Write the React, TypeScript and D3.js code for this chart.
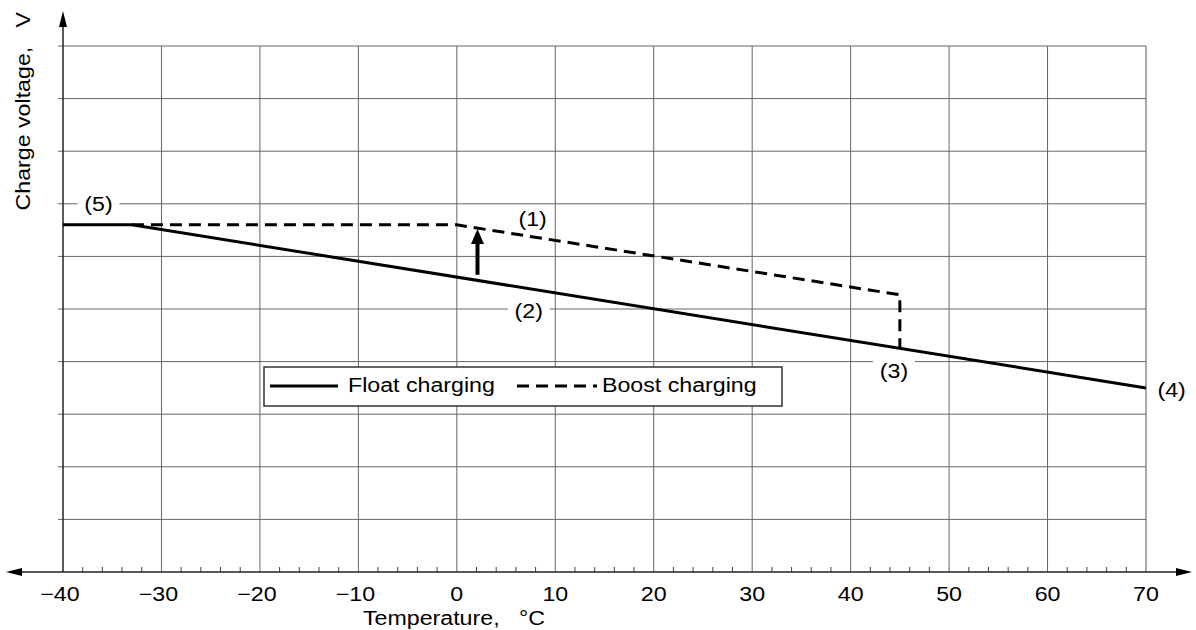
import React from 'react'
import * as d3 from 'd3'

// temperature ticks (°C)
const xTicks = [-40, -30, -20, -10, 0, 10, 20, 30, 40, 50, 60, 70]
const yGrid = [0, 1, 2, 3, 4, 5, 6, 7, 8, 9, 10]
// charge voltage in grid units (no y labels on the original)
const floatTemp = [-40, -33, 70]
const floatVolt = [6.6, 6.6, 3.5]
const boostTemp = [-33, 0, 45, 45]
const boostVolt = [6.6, 6.6, 5.27, 4.25]
const notes = [
  { label: '(5)', t: -36.4, v: 7.0 },
  { label: '(1)', t: 7.7, v: 6.72 },
  { label: '(2)', t: 7.3, v: 4.97 },
  { label: '(3)', t: 44.4, v: 3.83 },
  { label: '(4)', t: 72.6, v: 3.46 },
]
const arrowT = 2.1
const arrowFrom = 5.65
const arrowTo = 6.52

const W = 1196
const H = 630
const font = '"Liberation Sans", Arial, sans-serif'
const SX = 1.16 // the original lettering is a bit wide

function Txt({ x, y, size = 20, anchor = 'start', rotate = 0, children }: any) {
  return (
    <g transform={`translate(${x},${y}) rotate(${rotate}) scale(${SX},1)`}>
      <text textAnchor={anchor} fontFamily={font} fontSize={size} fill="#000" xmlSpace="preserve">
        {children}
      </text>
    </g>
  )
}

export default function App() {
  const x = d3.scaleLinear().domain([-40, 70]).range([63, 1146])
  const y = d3.scaleLinear().domain([0, 10]).range([572, 46])
  const line = d3.line<[number, number]>().x(d => x(d[0])).y(d => y(d[1]))
  const floatPts = floatTemp.map((t, i) => [t, floatVolt[i]] as [number, number])
  const boostPts = boostTemp.map((t, i) => [t, boostVolt[i]] as [number, number])
  const minor = d3.range(-40, 70.1, 2).filter(t => t % 10 !== 0)

  const ax = x(arrowT)
  return (
    <svg width={W} height={H} style={{ position: 'absolute', left: 0, top: 0, background: '#fff' }}>
      {/* grid */}
      {xTicks.slice(1, -1).map(t => (
        <line key={'vx' + t} x1={x(t)} x2={x(t)} y1={y(10)} y2={y(0)} stroke="#666" strokeWidth={1} />
      ))}
      <line x1={x(70)} x2={x(70)} y1={y(10)} y2={y(0)} stroke="#aaa" strokeWidth={2} />
      {yGrid.slice(1).map(v => (
        <line key={'hy' + v} x1={x(-40) - 5} x2={x(70)} y1={y(v)} y2={y(v)} stroke="#666" strokeWidth={1} />
      ))}
      {/* minor x ticks */}
      {minor.map(t => (
        <line key={'m' + t} x1={x(t)} x2={x(t)} y1={y(0) - 5} y2={y(0)} stroke="#444" strokeWidth={1} />
      ))}
      {/* axes */}
      <line x1={x(-40)} x2={x(-40)} y1={22} y2={y(0)} stroke="#222" strokeWidth={1.5} />
      <path d={`M${x(-40)},11 L${x(-40) - 4},27 L${x(-40) + 4},27 Z`} fill="#000" />
      <line x1={18} x2={1180} y1={y(0)} y2={y(0)} stroke="#222" strokeWidth={1.5} />
      <path d={`M6,${y(0)} L22,${y(0) - 4} L22,${y(0) + 4} Z`} fill="#000" />
      <path d={`M1192,${y(0)} L1176,${y(0) - 4} L1176,${y(0) + 4} Z`} fill="#000" />
      {/* series */}
      <path d={line(boostPts) ?? ''} fill="none" stroke="#000" strokeWidth={3} strokeDasharray="12,7" />
      <path d={line(floatPts) ?? ''} fill="none" stroke="#000" strokeWidth={3} />
      {/* arrow */}
      <line x1={ax} x2={ax} y1={y(arrowFrom)} y2={y(arrowTo) + 12} stroke="#000" strokeWidth={4} />
      <path d={`M${ax},${y(arrowTo)} L${ax - 6.5},${y(arrowTo) + 15} L${ax + 6.5},${y(arrowTo) + 15} Z`} fill="#000" />
      {/* labels */}
      {notes.map(n => (
        <g key={n.label}>
          {n.label !== '(4)' && (
            <rect x={x(n.t) - 21} y={y(n.v) - 11} width={42} height={22} fill="#fff" />
          )}
          <Txt x={x(n.t)} y={y(n.v) + 7} size={20} anchor="middle">{n.label}</Txt>
        </g>
      ))}
      {/* legend */}
      <rect x={264} y={367} width={518} height={39} fill="#fff" stroke="#333" strokeWidth={1.5} />
      <line x1={270} x2={338} y1={386} y2={386} stroke="#000" strokeWidth={3} />
      <Txt x={348} y={392}>Float charging</Txt>
      <line x1={517} x2={597} y1={386} y2={386} stroke="#000" strokeWidth={3} strokeDasharray="12,7" />
      <Txt x={602} y={392}>Boost charging</Txt>
      {/* tick labels */}
      {xTicks.map(t => (
        <Txt key={'t' + t} x={x(t) + (t < 0 ? -3 : 0)} y={601} anchor="middle">
          {t < 0 ? '\u2212' + Math.abs(t) : String(t)}
        </Txt>
      ))}
      <Txt x={363} y={625}>{'Temperature,   °C'}</Txt>
      <Txt x={30} y={12} anchor="end" rotate={-90}>{'Charge voltage,   V'}</Txt>
    </svg>
  )
}
